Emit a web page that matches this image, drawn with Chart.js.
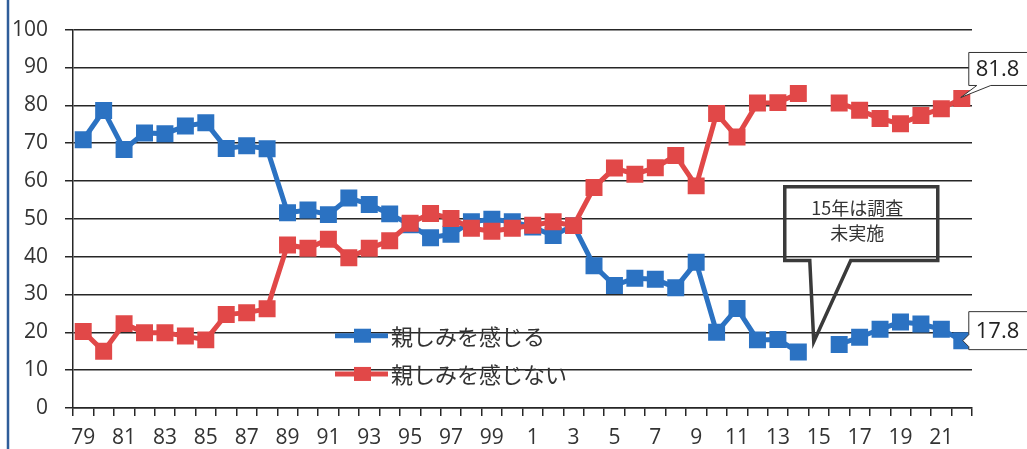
<!DOCTYPE html>
<html lang="ja">
<head>
<meta charset="utf-8">
<style>
  body { margin: 0; background: #fff; }
</style>
<script src="https://cdn.jsdelivr.net/npm/chart.js@4.4.0/dist/chart.umd.min.js"></script>
</head>
<body>
<canvas id="myChart" width="1027" height="449"></canvas>
<script>
'use strict';

let years = ['79', '80', '81', '82', '83', '84', '85', '86', '87', '88', '89', '90', '91', '92', '93', '94', '95', '96', '97', '98', '99',
  '0', '1', '2', '3', '4', '5', '6', '7', '8', '9', '10', '11', '12', '13', '14', '15', '16', '17', '18', '19', '20', '21', '22'];

let feelClose = [70.9, 78.6, 68.3, 72.7, 72.5, 74.5, 75.4, 68.6, 69.3, 68.5, 51.6, 52.3, 51.1, 55.5, 53.8, 51.3, 48.4, 45.0, 45.9, 49.2, 49.9,
  49.2, 47.8, 45.6, 48.2, 37.6, 32.4, 34.3, 34.0, 31.8, 38.5, 20.0, 26.3, 18.0, 18.1, 14.8, null, 16.8, 18.7, 20.8, 22.7, 22.2, 20.8, 17.8];

let notClose = [20.2, 15.0, 22.3, 19.9, 19.9, 19.0, 18.0, 24.7, 25.2, 26.2, 43.1, 42.2, 44.6, 39.7, 42.2, 44.2, 48.8, 51.4, 50.1, 47.5, 46.7,
  47.5, 48.3, 49.2, 48.2, 58.3, 63.4, 61.8, 63.5, 66.7, 58.7, 77.8, 71.6, 80.6, 80.7, 83.1, null, 80.6, 78.7, 76.5, 75.1, 77.3, 79.1, 81.8];

let seriesNames = ['親しみを感じる', '親しみを感じない'];
let noSurveyNote = ['15年は調査', '未実施'];

const blue = '#2b72c2';
const red = '#e14848';
const ink = '#262626';

let canvasChart = document.getElementById('myChart').getContext('2d');

// callouts, legend and end value boxes
const extras = {
  id: 'extras',
  afterDatasetsDraw(chart) {
    const ctx = chart.ctx;
    const xs = chart.scales.x;
    const ys = chart.scales.y;

    ctx.save();
    // blue edge on the left
    ctx.strokeStyle = '#2f5d9a';
    ctx.lineWidth = 2.5;
    ctx.beginPath();
    ctx.moveTo(8, 0);
    ctx.lineTo(8, chart.height);
    ctx.stroke();

    // legend inside the plot
    const lx = chart.chartArea.left + 262;
    [0, 1].forEach(i => {
      const ds = chart.data.datasets[i];
      const ly = ys.getPixelForValue(i === 0 ? 19.1 : 9.0);
      ctx.strokeStyle = ds.borderColor;
      ctx.lineWidth = 5;
      ctx.beginPath();
      ctx.moveTo(lx, ly);
      ctx.lineTo(lx + 53, ly);
      ctx.stroke();
      ctx.fillStyle = ds.borderColor;
      ctx.fillRect(lx + 19, ly - 7, 17, 14);
      ctx.fillStyle = '#333';
      ctx.font = '22px "Noto Sans CJK JP"';
      ctx.textAlign = 'left';
      ctx.textBaseline = 'middle';
      ctx.fillText(ds.label, lx + 56, ly + 1);
    });

    // "no survey in 15" callout
    const idx = years.indexOf('15');
    const tipX = xs.getPixelForValue(idx) - 5;
    const tipY = ys.getPixelForValue(17.5);
    const bl = tipX - 29, br = tipX + 124;
    const bt = ys.getPixelForValue(58.5), bb = ys.getPixelForValue(39);
    ctx.strokeStyle = '#3a3a3a';
    ctx.lineWidth = 3.5;
    ctx.lineJoin = 'miter';
    ctx.beginPath();
    ctx.moveTo(bl, bt);
    ctx.lineTo(br, bt);
    ctx.lineTo(br, bb);
    ctx.lineTo(bl + 66, bb);
    ctx.lineTo(tipX, tipY);
    ctx.lineTo(bl + 25, bb);
    ctx.lineTo(bl, bb);
    ctx.closePath();
    ctx.stroke();
    ctx.fillStyle = '#333';
    ctx.font = '18px "Noto Sans CJK JP"';
    ctx.textAlign = 'center';
    ctx.textBaseline = 'middle';
    ctx.fillText(noSurveyNote[0], (bl + br) / 2 - 4, bt + 22);
    ctx.fillText(noSurveyNote[1], (bl + br) / 2 - 4, bt + 47);

    // end value boxes
    const last = years.length - 1;
    ctx.lineWidth = 1;
    ctx.strokeStyle = '#333';
    ctx.font = '22px "Open Sans"';
    ctx.textAlign = 'left';

    const pr = chart.getDatasetMeta(1).data[last];
    let l = pr.x + 7, t = pr.y - 46, b = pr.y - 13, r = l + 64;
    ctx.fillStyle = '#fff';
    ctx.beginPath();
    ctx.moveTo(l, t);
    ctx.lineTo(r, t);
    ctx.lineTo(r, b);
    ctx.lineTo(l + 22, b);
    ctx.lineTo(pr.x - 1, pr.y - 1);
    ctx.lineTo(l + 8, b);
    ctx.lineTo(l, b);
    ctx.closePath();
    ctx.fill();
    ctx.stroke();
    ctx.fillStyle = '#222';
    ctx.fillText(notClose[last].toFixed(1), l + 7, (t + b) / 2 + 1);

    const pb = chart.getDatasetMeta(0).data[last];
    l = pb.x + 7; t = pb.y - 29; b = pb.y + 9; r = l + 64;
    ctx.fillStyle = '#fff';
    ctx.beginPath();
    ctx.moveTo(l, t);
    ctx.lineTo(r, t);
    ctx.lineTo(r, b);
    ctx.lineTo(l, b);
    ctx.lineTo(l, pb.y + 6);
    ctx.lineTo(pb.x + 1, pb.y);
    ctx.lineTo(l, pb.y - 6);
    ctx.closePath();
    ctx.fill();
    ctx.stroke();
    ctx.fillStyle = '#222';
    ctx.fillText(feelClose[last].toFixed(1), l + 7, (t + b) / 2 + 1);
    ctx.restore();
  }
};

const data = {
  labels: years,
  datasets: [{
    label: seriesNames[0],
    data: feelClose,
    borderColor: blue,
    backgroundColor: blue,
    borderWidth: 5,
    pointStyle: 'rect',
    pointRadius: 12,
    pointBorderWidth: 0,
    spanGaps: false,
    order: 1
  },
  {
    label: seriesNames[1],
    data: notClose,
    borderColor: red,
    backgroundColor: red,
    borderWidth: 5,
    pointStyle: 'rect',
    pointRadius: 12,
    pointBorderWidth: 0,
    spanGaps: false,
    order: 0
  }]
};

const config = {
  type: 'line',
  data: data,
  options: {
    responsive: false,
    animation: false,
    layout: { padding: { top: 21, right: 55, left: 0, bottom: 0 } },
    plugins: {
      legend: { display: false },
      tooltip: { enabled: false }
    },
    scales: {
      x: {
        offset: true,
        grid: { drawOnChartArea: false, offset: true, tickLength: 8, color: ink, lineWidth: 1.5 },
        border: { color: ink, width: 1.5 },
        ticks: {
          autoSkip: false,
          maxRotation: 0,
          padding: 9,
          color: '#333',
          font: { family: 'Open Sans', size: 21 },
          callback: function (value, index) {
            return index % 2 === 0 ? this.getLabelForValue(value) : '';
          }
        },
        afterFit: function (scale) { scale.height = 41; }
      },
      y: {
        min: 0,
        max: 100,
        grid: { color: ink, lineWidth: 1.5, tickLength: 8 },
        border: { color: ink, width: 1.5 },
        ticks: {
          stepSize: 10,
          padding: 17,
          color: '#333',
          font: { family: 'Open Sans', size: 21 }
        },
        afterFit: function (scale) { scale.width = 73; }
      }
    }
  },
  plugins: [extras]
};

// eslint-disable-next-line no-unused-vars, no-undef
const myChart = new Chart(canvasChart, config);
</script>
</body>
</html>
